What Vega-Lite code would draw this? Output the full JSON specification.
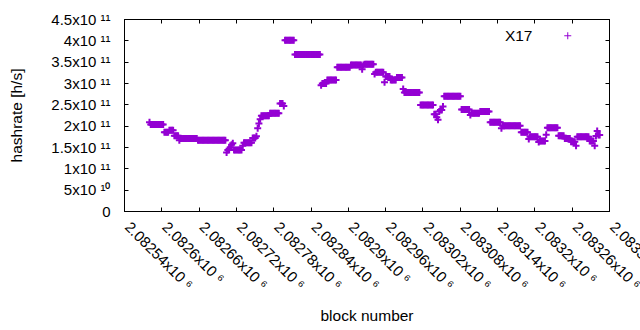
{
"$schema": "https://vega.github.io/schema/vega-lite/v6.json",
"width": 485, "height": 192,
"autosize": {"type": "none"},
"padding": {"left": 124, "top": 19, "right": 31, "bottom": 119},
"background": "white",
"config": {
 "view": {"stroke": "black", "strokeWidth": 1},
 "font": "Liberation Sans",
 "axis": {"domainColor": "black", "tickColor": "black", "labelColor": "black", "titleColor": "black", "labelFont": "Liberation Sans", "titleFont": "Liberation Sans", "labelFontSize": 15, "titleFontSize": 15.5, "titleFontWeight": "normal", "grid": false, "tickSize": -4}
},
"data": {"values": [
{"b":2082581,"h":2.08e11},{"b":2082583,"h":2.03e11},{"b":2082585,"h":2.03e11},{"b":2082587,"h":2.03e11},{"b":2082589,"h":2.03e11},{"b":2082591,"h":2.03e11},{"b":2082593,"h":2.03e11},{"b":2082595,"h":2.03e11},{"b":2082597,"h":2.03e11},{"b":2082599,"h":2.03e11},{"b":2082601,"h":2.03e11},{"b":2082603,"h":2.03e11},
{"b":2082605,"h":1.845e11},{"b":2082607,"h":1.845e11},{"b":2082609,"h":1.845e11},{"b":2082611,"h":1.845e11},
{"b":2082613,"h":1.89e11},{"b":2082615,"h":1.89e11},{"b":2082617,"h":1.89e11},{"b":2082619,"h":1.89e11},
{"b":2082621,"h":1.765e11},{"b":2082623,"h":1.765e11},{"b":2082625,"h":1.765e11},{"b":2082627,"h":1.765e11},
{"b":2082629,"h":1.66e11},{"b":2082631,"h":1.70e11},{"b":2082633,"h":1.70e11},{"b":2082635,"h":1.70e11},{"b":2082637,"h":1.70e11},{"b":2082639,"h":1.70e11},{"b":2082641,"h":1.70e11},{"b":2082643,"h":1.70e11},{"b":2082645,"h":1.70e11},{"b":2082647,"h":1.70e11},{"b":2082649,"h":1.70e11},{"b":2082651,"h":1.70e11},{"b":2082653,"h":1.70e11},{"b":2082655,"h":1.70e11},{"b":2082657,"h":1.70e11},
{"b":2082659,"h":1.657e11},{"b":2082661,"h":1.657e11},{"b":2082663,"h":1.657e11},{"b":2082665,"h":1.657e11},{"b":2082667,"h":1.657e11},{"b":2082669,"h":1.657e11},{"b":2082671,"h":1.657e11},{"b":2082673,"h":1.657e11},{"b":2082675,"h":1.657e11},{"b":2082677,"h":1.657e11},{"b":2082679,"h":1.657e11},{"b":2082681,"h":1.657e11},{"b":2082683,"h":1.657e11},{"b":2082685,"h":1.657e11},{"b":2082687,"h":1.657e11},{"b":2082689,"h":1.657e11},{"b":2082691,"h":1.657e11},{"b":2082693,"h":1.657e11},{"b":2082695,"h":1.657e11},{"b":2082697,"h":1.657e11},{"b":2082699,"h":1.657e11},{"b":2082701,"h":1.657e11},{"b":2082703,"h":1.657e11},
{"b":2082705,"h":1.37e11},{"b":2082707,"h":1.43e11},{"b":2082709,"h":1.46e11},{"b":2082711,"h":1.49e11},{"b":2082713,"h":1.55e11},{"b":2082715,"h":1.59e11},
{"b":2082717,"h":1.43e11},{"b":2082719,"h":1.43e11},{"b":2082721,"h":1.43e11},{"b":2082723,"h":1.43e11},{"b":2082725,"h":1.43e11},{"b":2082727,"h":1.43e11},{"b":2082729,"h":1.43e11},
{"b":2082731,"h":1.53e11},
{"b":2082733,"h":1.60e11},{"b":2082735,"h":1.60e11},{"b":2082737,"h":1.60e11},{"b":2082739,"h":1.60e11},{"b":2082741,"h":1.60e11},{"b":2082743,"h":1.60e11},{"b":2082745,"h":1.60e11},
{"b":2082747,"h":1.71e11},{"b":2082749,"h":1.71e11},{"b":2082751,"h":1.71e11},{"b":2082753,"h":1.75e11},{"b":2082755,"h":1.94e11},{"b":2082757,"h":2.05e11},{"b":2082759,"h":2.15e11},
{"b":2082761,"h":2.235e11},{"b":2082763,"h":2.235e11},{"b":2082765,"h":2.235e11},{"b":2082767,"h":2.235e11},{"b":2082769,"h":2.235e11},{"b":2082771,"h":2.235e11},{"b":2082773,"h":2.235e11},
{"b":2082775,"h":2.29e11},{"b":2082777,"h":2.29e11},{"b":2082779,"h":2.29e11},{"b":2082781,"h":2.29e11},{"b":2082783,"h":2.29e11},{"b":2082785,"h":2.29e11},{"b":2082787,"h":2.29e11},{"b":2082789,"h":2.29e11},
{"b":2082791,"h":2.52e11},{"b":2082793,"h":2.52e11},{"b":2082795,"h":2.52e11},{"b":2082797,"h":2.46e11},
{"b":2082799,"h":4.0e11},{"b":2082801,"h":4.0e11},{"b":2082803,"h":4.0e11},{"b":2082805,"h":4.0e11},{"b":2082807,"h":4.0e11},{"b":2082809,"h":4.0e11},{"b":2082811,"h":4.0e11},{"b":2082813,"h":4.0e11},
{"b":2082815,"h":3.67e11},{"b":2082817,"h":3.67e11},{"b":2082819,"h":3.67e11},{"b":2082821,"h":3.67e11},{"b":2082823,"h":3.67e11},{"b":2082825,"h":3.67e11},{"b":2082827,"h":3.67e11},{"b":2082829,"h":3.67e11},{"b":2082831,"h":3.67e11},{"b":2082833,"h":3.67e11},{"b":2082835,"h":3.67e11},{"b":2082837,"h":3.67e11},{"b":2082839,"h":3.67e11},{"b":2082841,"h":3.67e11},{"b":2082843,"h":3.67e11},{"b":2082845,"h":3.67e11},{"b":2082847,"h":3.67e11},{"b":2082849,"h":3.67e11},{"b":2082851,"h":3.67e11},{"b":2082853,"h":3.67e11},{"b":2082855,"h":3.67e11},
{"b":2082857,"h":2.95e11},{"b":2082859,"h":2.99e11},{"b":2082861,"h":2.99e11},{"b":2082863,"h":2.99e11},{"b":2082865,"h":2.99e11},
{"b":2082867,"h":3.07e11},{"b":2082869,"h":3.07e11},{"b":2082871,"h":3.07e11},{"b":2082873,"h":3.07e11},{"b":2082875,"h":3.07e11},{"b":2082877,"h":3.07e11},{"b":2082879,"h":3.07e11},{"b":2082881,"h":3.07e11},
{"b":2082883,"h":3.37e11},{"b":2082885,"h":3.37e11},{"b":2082887,"h":3.37e11},{"b":2082889,"h":3.37e11},{"b":2082891,"h":3.37e11},{"b":2082893,"h":3.37e11},{"b":2082895,"h":3.37e11},{"b":2082897,"h":3.37e11},{"b":2082899,"h":3.37e11},{"b":2082901,"h":3.37e11},{"b":2082903,"h":3.37e11},
{"b":2082905,"h":3.42e11},{"b":2082907,"h":3.42e11},{"b":2082909,"h":3.42e11},{"b":2082911,"h":3.42e11},{"b":2082913,"h":3.42e11},{"b":2082915,"h":3.42e11},{"b":2082917,"h":3.42e11},{"b":2082919,"h":3.42e11},{"b":2082921,"h":3.42e11},{"b":2082923,"h":3.32e11},{"b":2082925,"h":3.42e11},
{"b":2082927,"h":3.44e11},{"b":2082929,"h":3.44e11},{"b":2082931,"h":3.44e11},{"b":2082933,"h":3.44e11},{"b":2082935,"h":3.44e11},{"b":2082937,"h":3.44e11},{"b":2082939,"h":3.44e11},{"b":2082941,"h":3.44e11},
{"b":2082943,"h":3.21e11},{"b":2082945,"h":3.25e11},{"b":2082947,"h":3.25e11},{"b":2082949,"h":3.25e11},{"b":2082951,"h":3.25e11},{"b":2082953,"h":3.25e11},{"b":2082955,"h":3.25e11},{"b":2082957,"h":3.25e11},
{"b":2082959,"h":3.02e11},
{"b":2082961,"h":3.15e11},{"b":2082963,"h":3.15e11},{"b":2082965,"h":3.15e11},{"b":2082967,"h":3.15e11},
{"b":2082969,"h":3.07e11},{"b":2082971,"h":3.07e11},{"b":2082973,"h":3.07e11},{"b":2082975,"h":3.07e11},{"b":2082977,"h":3.07e11},
{"b":2082979,"h":3.13e11},{"b":2082981,"h":3.13e11},{"b":2082983,"h":3.13e11},{"b":2082985,"h":3.13e11},{"b":2082987,"h":3.13e11},
{"b":2082989,"h":2.86e11},
{"b":2082991,"h":2.78e11},{"b":2082993,"h":2.78e11},{"b":2082995,"h":2.78e11},{"b":2082997,"h":2.78e11},{"b":2082999,"h":2.78e11},{"b":2083001,"h":2.78e11},{"b":2083003,"h":2.78e11},{"b":2083005,"h":2.78e11},{"b":2083007,"h":2.78e11},{"b":2083009,"h":2.78e11},{"b":2083011,"h":2.78e11},{"b":2083013,"h":2.78e11},{"b":2083015,"h":2.78e11},
{"b":2083017,"h":2.485e11},{"b":2083019,"h":2.485e11},{"b":2083021,"h":2.485e11},{"b":2083023,"h":2.485e11},{"b":2083025,"h":2.485e11},{"b":2083027,"h":2.485e11},{"b":2083029,"h":2.485e11},{"b":2083031,"h":2.485e11},{"b":2083033,"h":2.485e11},{"b":2083035,"h":2.485e11},{"b":2083037,"h":2.485e11},
{"b":2083039,"h":2.27e11},{"b":2083041,"h":2.27e11},{"b":2083043,"h":2.2e11},{"b":2083045,"h":2.14e11},{"b":2083047,"h":2.33e11},{"b":2083049,"h":2.37e11},{"b":2083051,"h":2.37e11},{"b":2083053,"h":2.45e11},
{"b":2083055,"h":2.69e11},{"b":2083057,"h":2.69e11},{"b":2083059,"h":2.69e11},{"b":2083061,"h":2.69e11},{"b":2083063,"h":2.69e11},{"b":2083065,"h":2.69e11},{"b":2083067,"h":2.69e11},{"b":2083069,"h":2.69e11},{"b":2083071,"h":2.69e11},{"b":2083073,"h":2.69e11},{"b":2083075,"h":2.69e11},{"b":2083077,"h":2.69e11},{"b":2083079,"h":2.69e11},{"b":2083081,"h":2.69e11},
{"b":2083083,"h":2.38e11},{"b":2083085,"h":2.38e11},{"b":2083087,"h":2.38e11},{"b":2083089,"h":2.38e11},{"b":2083091,"h":2.38e11},{"b":2083093,"h":2.38e11},{"b":2083095,"h":2.38e11},
{"b":2083097,"h":2.25e11},
{"b":2083099,"h":2.29e11},{"b":2083101,"h":2.29e11},{"b":2083103,"h":2.29e11},{"b":2083105,"h":2.29e11},{"b":2083107,"h":2.29e11},{"b":2083109,"h":2.29e11},{"b":2083111,"h":2.29e11},
{"b":2083113,"h":2.33e11},{"b":2083115,"h":2.33e11},{"b":2083117,"h":2.33e11},{"b":2083119,"h":2.33e11},{"b":2083121,"h":2.33e11},{"b":2083123,"h":2.33e11},{"b":2083125,"h":2.33e11},{"b":2083127,"h":2.33e11},
{"b":2083129,"h":2.08e11},{"b":2083131,"h":2.08e11},{"b":2083133,"h":2.08e11},{"b":2083135,"h":2.08e11},{"b":2083137,"h":2.08e11},{"b":2083139,"h":2.08e11},{"b":2083141,"h":2.08e11},{"b":2083143,"h":2.08e11},{"b":2083145,"h":2.08e11},
{"b":2083147,"h":1.94e11},
{"b":2083149,"h":2.0e11},{"b":2083151,"h":2.0e11},{"b":2083153,"h":2.0e11},{"b":2083155,"h":2.0e11},{"b":2083157,"h":2.0e11},{"b":2083159,"h":2.0e11},{"b":2083161,"h":2.0e11},{"b":2083163,"h":2.0e11},{"b":2083165,"h":2.0e11},{"b":2083167,"h":2.0e11},{"b":2083169,"h":2.0e11},{"b":2083171,"h":2.0e11},{"b":2083173,"h":2.0e11},{"b":2083175,"h":2.0e11},{"b":2083177,"h":2.0e11},
{"b":2083179,"h":1.845e11},{"b":2083181,"h":1.845e11},{"b":2083183,"h":1.845e11},{"b":2083185,"h":1.845e11},{"b":2083187,"h":1.845e11},{"b":2083189,"h":1.845e11},
{"b":2083191,"h":1.69e11},
{"b":2083193,"h":1.74e11},{"b":2083195,"h":1.74e11},{"b":2083197,"h":1.74e11},{"b":2083199,"h":1.74e11},{"b":2083201,"h":1.74e11},{"b":2083203,"h":1.74e11},{"b":2083205,"h":1.74e11},
{"b":2083207,"h":1.62e11},
{"b":2083209,"h":1.64e11},{"b":2083211,"h":1.64e11},{"b":2083213,"h":1.64e11},{"b":2083215,"h":1.64e11},{"b":2083217,"h":1.64e11},
{"b":2083219,"h":1.79e11},
{"b":2083221,"h":1.95e11},{"b":2083223,"h":1.95e11},{"b":2083225,"h":1.95e11},{"b":2083227,"h":1.95e11},{"b":2083229,"h":1.95e11},{"b":2083231,"h":1.95e11},{"b":2083233,"h":1.95e11},{"b":2083235,"h":1.95e11},{"b":2083237,"h":1.95e11},
{"b":2083239,"h":1.765e11},{"b":2083241,"h":1.765e11},{"b":2083243,"h":1.765e11},{"b":2083245,"h":1.765e11},{"b":2083247,"h":1.765e11},
{"b":2083249,"h":1.70e11},{"b":2083251,"h":1.70e11},{"b":2083253,"h":1.70e11},{"b":2083255,"h":1.70e11},{"b":2083257,"h":1.70e11},
{"b":2083259,"h":1.625e11},{"b":2083261,"h":1.625e11},{"b":2083263,"h":1.625e11},{"b":2083265,"h":1.625e11},{"b":2083267,"h":1.53e11},
{"b":2083269,"h":1.74e11},{"b":2083271,"h":1.74e11},{"b":2083273,"h":1.74e11},{"b":2083275,"h":1.74e11},{"b":2083277,"h":1.74e11},{"b":2083279,"h":1.74e11},{"b":2083281,"h":1.74e11},{"b":2083283,"h":1.74e11},{"b":2083285,"h":1.74e11},{"b":2083287,"h":1.74e11},
{"b":2083289,"h":1.64e11},{"b":2083291,"h":1.64e11},{"b":2083293,"h":1.64e11},{"b":2083295,"h":1.64e11},{"b":2083297,"h":1.53e11},
{"b":2083299,"h":1.76e11},{"b":2083301,"h":1.875e11},{"b":2083303,"h":1.78e11},{"b":2083305,"h":1.78e11}
]},
"layer": [
 {
  "mark": {"type": "point", "shape": "M-1,0H1M0,-1V1", "filled": false, "size": 49, "strokeWidth": 2, "opacity": 1},
  "encoding": {
   "x": {"field": "b", "type": "quantitative",
     "scale": {"domain": [2082540, 2083320], "nice": false, "zero": false},
     "axis": {"orient": "bottom", "title": "block number",
       "values": [2082540, 2082600, 2082660, 2082720, 2082780, 2082840, 2082900, 2082960, 2083020, 2083080, 2083140, 2083200, 2083260, 2083320],
       "labelExpr": "format(datum.value/1e6, '.5~f') + 'x10 ⁶'",
       "labelAngle": 45, "labelAlign": "left", "labelBaseline": "middle",
       "labelPadding": 17, "labelOffset": 3, "labelOverlap": false, "labelFlush": false, "labelBound": false,
       "titleX": 242.5, "titleY": 104, "titleBaseline": "middle", "titleAlign": "center"}},
   "y": {"field": "h", "type": "quantitative",
     "scale": {"domain": [0, 4.5e11], "nice": false, "zero": true},
     "axis": {"orient": "left", "title": "hashrate [h/s]",
       "values": [0, 5e10, 1e11, 1.5e11, 2e11, 2.5e11, 3e11, 3.5e11, 4e11, 4.5e11],
       "labelExpr": "datum.value == 0 ? '0' : (datum.value < 1e11 ? format(datum.value/1e10, '~g') + 'x10 ¹⁰' : format(datum.value/1e11, '~g') + 'x10 ¹¹')",
       "labelPadding": 18, "labelOverlap": false, "labelFlush": false, "labelBound": false,
       "titleX": -108, "titleY": 96, "titleAngle": -90, "titleBaseline": "middle", "titleAlign": "center"}},
   "color": {"datum": "X17", "type": "nominal", "scale": {"range": ["#9400d3"]},
     "legend": {"orient": "none", "legendX": 436, "legendY": 9, "title": null, "padding": 0,
       "labelFontSize": 15.5, "labelColor": "black", "labelFont": "Liberation Sans", "labelAlign": "right", "labelOffset": -43,
       "symbolType": "M-1,0H1M0,-1V1", "symbolSize": 49, "symbolStrokeWidth": 1, "symbolStrokeColor": "#9400d3", "symbolFillColor": "transparent"}}
  }
 },
 {
  "mark": {"type": "point", "opacity": 0},
  "encoding": {
   "x": {"field": "b", "type": "quantitative",
     "axis": {"orient": "top", "title": null, "labels": false,
       "values": [2082540, 2082600, 2082660, 2082720, 2082780, 2082840, 2082900, 2082960, 2083020, 2083080, 2083140, 2083200, 2083260, 2083320]}},
   "y": {"field": "h", "type": "quantitative",
     "axis": {"orient": "right", "title": null, "labels": false,
       "values": [0, 5e10, 1e11, 1.5e11, 2e11, 2.5e11, 3e11, 3.5e11, 4e11, 4.5e11]}}
  }
 }
],
"resolve": {"axis": {"x": "independent", "y": "independent"}}
}
